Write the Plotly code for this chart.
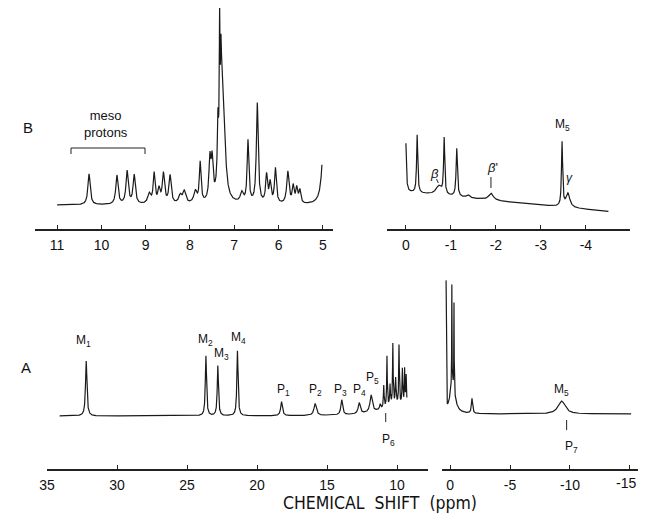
import numpy as np
import plotly.graph_objects as go

# page body has a default 8 px margin: keep the figure inside the window
OFF = 8
W, H = 646 - 2 * OFF, 521 - 2 * OFF

# ---------------- data ----------------
# Spectrum B, 5-11 ppm region: peak position (ppm), height (a.u.), width (ppm)
B_LEFT_PPM = [10.28, 9.65, 9.42, 9.26, 8.92, 8.81, 8.70, 8.60, 8.45, 8.22, 8.13, 7.88,
              7.77, 7.55, 7.50, 7.37, 7.33, 7.30, 7.28, 7.23, 6.83, 6.69, 6.48, 6.27,
              6.19, 6.07, 5.79, 5.67, 5.59, 5.52, 4.97]
B_LEFT_HEIGHT = [31, 29, 33, 29, 10, 30, 14, 30, 28, 8, 12, 12,
                 40, 40, 38, 57, 125, 50, 110, 40, 10, 62, 100, 28,
                 20, 35, 32, 17, 15, 13, 80]
B_LEFT_WIDTH = [0.06, 0.06, 0.06, 0.06, 0.08, 0.05, 0.06, 0.06, 0.06, 0.08, 0.08, 0.08,
                0.045, 0.05, 0.05, 0.03, 0.02, 0.02, 0.1, 0.08, 0.08, 0.045, 0.05, 0.05,
                0.05, 0.05, 0.06, 0.05, 0.05, 0.05, 0.1]
B_LEFT_START, B_LEFT_END = 11.0, 5.02

# Spectrum B, 0 to -4.5 ppm region
B_RIGHT_PPM = [0.01, -0.25, -0.73, -0.85, -1.13, -1.38, -1.89, -3.47, -3.60]
B_RIGHT_HEIGHT = [70, 58, 9, 56, 48, 3, 7, 64, 14]
B_RIGHT_WIDTH = [0.03, 0.03, 0.15, 0.03, 0.035, 0.08, 0.12, 0.03, 0.1]
B_RIGHT_BASE = (6.0, 4.3, -1.6)   # baseline level, tilt per ppm, reference ppm
B_RIGHT_START, B_RIGHT_END = 0.0, -4.5

# Spectrum A, 9-34 ppm region
A_LEFT_PPM = [32.2, 23.65, 22.8, 21.4, 18.25, 15.85, 13.95, 12.7, 11.85,
              11.2, 10.95, 10.72, 10.5, 10.3, 10.1, 9.86, 9.62, 9.46, 9.35, 10.0]
A_LEFT_HEIGHT = [55, 60, 50, 65, 14, 12, 15, 11, 17,
                 5, 22, 50, 20, 60, 25, 58, 35, 35, 30, 12]
A_LEFT_WIDTH = [0.12, 0.1, 0.1, 0.1, 0.15, 0.2, 0.15, 0.18, 0.2,
                0.1, 0.06, 0.05, 0.06, 0.05, 0.06, 0.05, 0.06, 0.05, 0.06, 2.5]
A_LEFT_START, A_LEFT_END = 34.1, 9.3

# Spectrum A, 0 to -15 ppm region
A_RIGHT_PPM = [0.33, -0.15, -0.33, -0.2, -1.83, -9.3]
A_RIGHT_HEIGHT = [128, 100, 87, 30, 15, 13]
A_RIGHT_WIDTH = [0.03, 0.03, 0.03, 0.5, 0.12, 0.7]
A_RIGHT_BASE = 2.0
A_RIGHT_START, A_RIGHT_END = 0.33, -15.1

B_LEFT_TICKS = [11, 10, 9, 8, 7, 6, 5]
B_RIGHT_TICKS = [0, -1, -2, -3, -4]
A_LEFT_TICKS = [35, 30, 25, 20, 15, 10]
A_RIGHT_TICKS = [0, -5, -10, -15]

# peak labels: (text, ppm)
A_LEFT_LABELS = [("M<sub>1</sub>", 32.4), ("M<sub>2</sub>", 23.7), ("M<sub>3</sub>", 22.55),
                 ("M<sub>4</sub>", 21.3), ("P<sub>1</sub>", 18.1), ("P<sub>2</sub>", 15.85),
                 ("P<sub>3</sub>", 14.05), ("P<sub>4</sub>", 12.7), ("P<sub>5</sub>", 11.75)]


def spectrum(grid, pos, hgt, wid):
    g = np.asarray(grid)[:, None]
    p = np.asarray(pos)[None, :]
    h = np.asarray(hgt)[None, :]
    w = np.asarray(wid)[None, :] / 2.0
    return (h / (1.0 + ((g - p) / w) ** 2)).sum(axis=1)


def px_x(x):
    return (x - OFF) / W


def px_y(y):
    return 1 - (y - OFF) / H


fig = go.Figure()
LINE = dict(color="#1a1a1a", width=1.2)

gBL = np.arange(B_LEFT_START, B_LEFT_END - 1e-9, -0.002)
fig.add_trace(go.Scatter(x=gBL, y=spectrum(gBL, B_LEFT_PPM, B_LEFT_HEIGHT, B_LEFT_WIDTH),
                         mode="lines", line=LINE, xaxis="x", yaxis="y", hoverinfo="skip"))

gBR = np.arange(B_RIGHT_START, B_RIGHT_END - 1e-9, -0.002)
lvl, tilt, ref = B_RIGHT_BASE
yBR = spectrum(gBR, B_RIGHT_PPM, B_RIGHT_HEIGHT, B_RIGHT_WIDTH) + lvl + tilt * (gBR - ref)
fig.add_trace(go.Scatter(x=gBR, y=yBR, mode="lines", line=LINE, xaxis="x2", yaxis="y2",
                         hoverinfo="skip"))

gAL = np.arange(A_LEFT_START, A_LEFT_END - 1e-9, -0.005)
fig.add_trace(go.Scatter(x=gAL, y=spectrum(gAL, A_LEFT_PPM, A_LEFT_HEIGHT, A_LEFT_WIDTH),
                         mode="lines", line=LINE, xaxis="x3", yaxis="y3", hoverinfo="skip"))

gAR = np.arange(A_RIGHT_START, A_RIGHT_END - 1e-9, -0.004)
yAR = spectrum(gAR, A_RIGHT_PPM, A_RIGHT_HEIGHT, A_RIGHT_WIDTH) + A_RIGHT_BASE
fig.add_trace(go.Scatter(x=gAR, y=yAR, mode="lines", line=LINE, xaxis="x4", yaxis="y4",
                         hoverinfo="skip"))

TICKFONT = dict(family="Liberation Sans, Arial, sans-serif", size=14, color="#111")


def xaxis(dom, rng, ticks, anchor, labelled=None):
    labelled = ticks if labelled is None else labelled
    return dict(domain=[max(0, px_x(dom[0])), min(1, px_x(dom[1]))], range=rng, showline=True,
                linecolor="#222", linewidth=1.6, ticks="inside", ticklen=4, tickwidth=1.2,
                tickcolor="#222", tickvals=ticks,
                ticktext=[str(t) if t in labelled else "" for t in ticks],
                showgrid=False, zeroline=False, tickfont=TICKFONT, ticklabelstandoff=2,
                ticklabeloverflow="allow", fixedrange=True, anchor=anchor)


def yaxis(dom, rng, anchor):
    return dict(domain=[px_y(dom[1]), min(1, px_y(dom[0]))], range=rng, visible=False,
                anchor=anchor, fixedrange=True)


fig.update_layout(
    width=W, height=H, margin=dict(l=0, r=0, t=0, b=0, autoexpand=False),
    paper_bgcolor="white", plot_bgcolor="white", showlegend=False,
    xaxis=xaxis((35, 333), [11.5, 4.77], B_LEFT_TICKS, "y"),
    xaxis2=xaxis((387, 630), [0.42, -4.98], B_RIGHT_TICKS, "y2"),
    xaxis3=xaxis((47, 428), [35.0, 7.79], A_LEFT_TICKS, "y3"),
    # last label of the right A axis sits at the window edge: drawn as an annotation below
    xaxis4=xaxis((442, 638), [0.67, -15.67], A_RIGHT_TICKS, "y4", A_RIGHT_TICKS[:-1]),
    yaxis=yaxis((8, 229), [-24, 197], "x"),
    yaxis2=yaxis((8, 229), [-24, 197], "x2"),
    yaxis3=yaxis((250, 469), [-53, 166], "x3"),
    yaxis4=yaxis((250, 469), [-53, 166], "x4"),
)

LBL = dict(family="Liberation Sans, Arial, sans-serif", size=12, color="#111")
LABEL_Y = {"M<sub>1</sub>": 75, "M<sub>2</sub>": 76, "M<sub>3</sub>": 62, "M<sub>4</sub>": 78,
           "P<sub>5</sub>": 38}
C = dict(showarrow=False, xanchor="center", yanchor="middle")
ann = []
for txt, ppm in A_LEFT_LABELS:
    ann.append(dict(x=ppm, y=LABEL_Y.get(txt, 26), xref="x3", yref="y3", text=txt, font=LBL, **C))
ann += [
    dict(x=A_RIGHT_TICKS[-1], y=px_y(483), xref="x4", yref="paper", text=str(A_RIGHT_TICKS[-1]),
         font=TICKFONT, xshift=-4, **C),
    dict(x=10.64, y=-24, xref="x3", yref="y3", text="P<sub>6</sub>", font=LBL, **C),
    dict(x=-9.29, y=26, xref="x4", yref="y4", text="M<sub>5</sub>", font=LBL, **C),
    dict(x=-10.14, y=-31, xref="x4", yref="y4", text="P<sub>7</sub>", font=LBL, **C),
    dict(x=-3.49, y=80, xref="x2", yref="y2", text="M<sub>5</sub>", font=LBL, **C),
    dict(x=-0.64, y=32, xref="x2", yref="y2", text="<i>β</i>", font=dict(LBL, size=13), **C),
    dict(x=-1.93, y=38, xref="x2", yref="y2", text="<i>β</i>'", font=dict(LBL, size=13), **C),
    dict(x=-3.64, y=27, xref="x2", yref="y2", text="<i>γ</i>", font=dict(LBL, size=12), **C),
    dict(x=px_x(28), y=px_y(127), xref="paper", yref="paper", text="B",
         font=dict(LBL, size=15), **C),
    dict(x=px_x(26), y=px_y(367), xref="paper", yref="paper", text="A",
         font=dict(LBL, size=15), **C),
    dict(x=px_x(106), y=px_y(124), xref="paper", yref="paper", text="meso<br>protons",
         font=dict(LBL, size=13), **C),
    dict(x=px_x(380), y=px_y(503), xref="paper", yref="paper", text="CHEMICAL  SHIFT  (ppm)",
         font=dict(family="DejaVu Sans Condensed, Liberation Sans Narrow, Liberation Sans, sans-serif",
                   size=17.5, color="#111"), **C),
]
fig.update_layout(annotations=ann)

SH = dict(color="#222", width=1)
shapes = [
    dict(type="path", xref="paper", yref="paper",
         path=f"M {px_x(71)},{px_y(154)} L {px_x(71)},{px_y(148)} L {px_x(145)},{px_y(148)} L {px_x(145)},{px_y(154)}",
         line=SH),
    dict(type="line", xref="x2", yref="y2", x0=-1.89, x1=-1.89, y0=17, y1=28, line=SH),
    dict(type="line", xref="x2", yref="y2", x0=-0.68, x1=-0.72, y0=26, y1=22, line=SH),
    dict(type="line", xref="x3", yref="y3", x0=10.81, x1=10.81, y0=3, y1=-6, line=SH),
    dict(type="line", xref="x4", yref="y4", x0=-9.72, x1=-9.72, y0=-4, y1=-14, line=SH),
]
fig.update_layout(shapes=shapes)

fig.write_html("out.html")
